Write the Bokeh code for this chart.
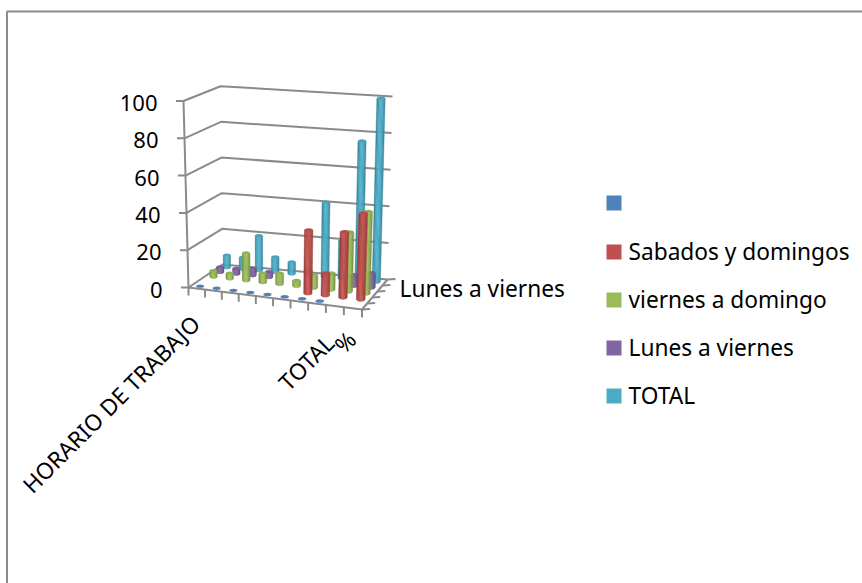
from math import radians, sqrt
from bokeh.plotting import figure
from bokeh.models import Range1d
from bokeh.core.properties import value
from bokeh.embed import file_html
from bokeh.resources import INLINE

# ---- data ----
categories = ["HORARIO DE TRABAJO", "", "", "", "", "", "", "", "TOTAL", "%"]
value_ticks = [0, 20, 40, 60, 80, 100]
series_names = ["", "Sabados y domingos", "viernes a domingo", "Lunes a viernes", "TOTAL"]
blank = [0, 0, 0, 0, 0, 0, 0, 0, None, None]
sabados = [None, None, None, None, None, None, 34, 12, 35, 46]
viernes = [3.5, 3, 15, 5, 6, 3, 7, 9, 32, 44]
lunes = [3, 3, 4, 3, None, None, None, None, 6, 8]
total = [7, 6.5, 19.5, 8.5, 6.5, 3, 41, 21, 76, 100]
series_values = [blank, sabados, viernes, lunes, total]
series_colors = ["#4F81BD", "#C0504D", "#9BBB59", "#8064A2", "#4BACC6"]
depth_label = "Lunes a viernes"

W, H = 862, 583
FONT = value("Noto Sans")
SIZE = "22.7px"
NUM_SIZE = "22px"
GRID = "#8A8A8A"

# ---- 3D projection of the Excel box (screen px) ----
FL, FR, BL, BR = (188, 287), (361.5, 309), (222, 264), (387, 279)
TFL, TFR, TBL, TBR = (183, 100.5), (368, 119), (220, 85.7), (392, 96)


def lerp(a, b, t):
    return (a[0] + (b[0] - a[0]) * t, a[1] + (b[1] - a[1]) * t)


def warp(u):
    return u * (0.95 + 0.05 * u)


def P(u, v, w):
    uu = warp(u)
    floor = lerp(lerp(FL, FR, uu), lerp(BL, BR, uu), v)
    top = lerp(lerp(TFL, TFR, uu), lerp(TBL, TBR, uu), v)
    return lerp(floor, top, w / 100)


p = figure(width=W, height=H, x_range=Range1d(0, W), y_range=Range1d(H, 0),
           toolbar_location=None, output_backend="svg", min_border=0,
           x_axis_location=None, y_axis_location=None, outline_line_color=None,
           background_fill_color="white", border_fill_color="white")
p.grid.visible = False
p.styles = {"position": "absolute", "left": "0px", "top": "0px"}

# chart frame (only left and top edges are in the picture)
p.multi_line([[6.5, 6.5, W]], [[H, 11, 11]], line_color="#8C8C8C", line_width=2)

# walls and floor
xs, ys = [], []
for w in value_ticks:
    pts = [P(0, 0, w), P(0, 1, w), P(1, 1, w)]
    xs.append([q[0] for q in pts])
    ys.append([q[1] for q in pts])
    a = P(0, 0, w)
    xs.append([a[0] - 7.5, a[0]])
    ys.append([a[1], a[1]])
corners = [P(0, 0, 100), P(0, 0, 0), P(1, 0, 0), P(1, 1, 0)]
xs.append([q[0] for q in corners])
ys.append([q[1] for q in corners])
n = len(categories)
for i in range(n + 1):
    a = P(i / n, 0, 0)
    xs.append([a[0], a[0]])
    ys.append([a[1], a[1] + 8])
m = len(series_names)
for j in range(m + 1):
    a = P(1, j / m, 0)
    xs.append([a[0], a[0] + 8])
    ys.append([a[1], a[1] - 0.5])
p.multi_line(xs, ys, line_color=GRID, line_width=2)


def shade(col, f):
    r, g, b = int(col[1:3], 16), int(col[3:5], 16), int(col[5:7], 16)
    if f <= 1:
        c = [v * f for v in (r, g, b)]
    else:
        c = [v + (255 - v) * (f - 1) for v in (r, g, b)]
    return "#%02x%02x%02x" % tuple(int(v) for v in c)


STRIPS = 7
SHADES = [0.78, 0.92, 1.0, 1.05, 1.0, 0.94, 0.82]

# cylinders, painted from the back row to the front row
for j in range(m - 1, -1, -1):
    vals = series_values[j]
    col = series_colors[j]
    v = (j + 0.5) / m
    px, py, pc, ex, ey, ew, eh = [], [], [], [], [], [], []
    for i, val in enumerate(vals):
        if val is None:
            continue
        u = (i + 0.5) / n
        b = P(u, v, 0)
        t = P(u, v, val)
        rx = 3.5 + 0.6 * warp(u) + 0.4 * (1 - v)
        ry = 0.42 * rx
        if val > 0:
            for k in range(STRIPS):
                t0 = -1 + 2 * k / STRIPS
                t1 = -1 + 2 * (k + 1) / STRIPS
                d0 = ry * sqrt(1 - t0 * t0)
                d1 = ry * sqrt(1 - t1 * t1)
                px.append([t[0] + rx * t0, t[0] + rx * t1, b[0] + rx * t1, b[0] + rx * t0])
                py.append([t[1] + d0, t[1] + d1, b[1] + d1, b[1] + d0])
                pc.append(shade(col, SHADES[k]))
        ex.append(t[0])
        ey.append(t[1])
        ew.append(2 * rx)
        eh.append(2 * ry)
    if px:
        p.patches(px, py, fill_color=pc, line_color=pc, line_width=0.5)
    p.ellipse(ex, ey, width=ew, height=eh, fill_color=shade(col, 0.95 if j else 1.0),
              line_color=None)

TXT = "#000000"
# value labels
for w in value_ticks:
    a = P(0, 0, w)
    p.text([a[0] - 26], [a[1] + 2], text=[str(w)], text_font=FONT, text_font_size=NUM_SIZE,
           text_align="right", text_baseline="middle", text_color=TXT)

# category labels
offsets = {0: (-1, 31), 8: (-5, 33), 9: (-1, 27)}
for i, lab in enumerate(categories):
    if not lab:
        continue
    a = P((i + 0.5) / n, 0, 0)
    dx, dy = offsets[i]
    p.text([a[0] + dx], [a[1] + dy], text=[lab], text_font=FONT, text_font_size=SIZE,
           text_align="right", text_baseline="middle", angle=radians(45), text_color=TXT)

# depth axis label
p.text([399], [288], text=[depth_label], text_font=FONT, text_font_size=SIZE,
       text_align="left", text_baseline="middle", text_color=TXT)

# legend
legend_y = [202.5, 251.5, 299.5, 347.5, 395.5]
p.rect([613.5] * m, legend_y, width=15, height=15, fill_color=series_colors, line_color=None)
p.text([628] * m, [y - 1 for y in legend_y], text=series_names, text_font=FONT,
       text_font_size=SIZE, text_align="left", text_baseline="middle", text_color=TXT)

open("out.html", "w").write(file_html(p, INLINE))
